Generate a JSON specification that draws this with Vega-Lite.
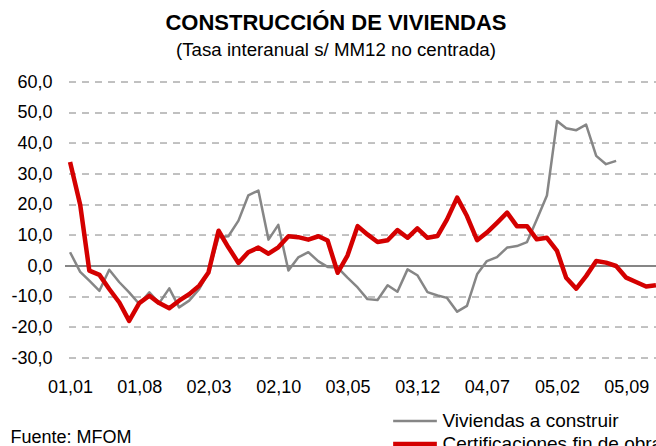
{
  "$schema": "https://vega.github.io/schema/vega-lite/v6.json",
  "width": 596,
  "height": 276,
  "autosize": {"type": "none"},
  "padding": {"left": 65, "top": 82, "right": 0, "bottom": 88},
  "background": "white",
  "title": {
    "text": "CONSTRUCCIÓN DE VIVIENDAS",
    "subtitle": "(Tasa interanual s/ MM12 no centrada)",
    "anchor": "middle",
    "dx": -27,
    "offset": 12,
    "fontSize": 22,
    "fontWeight": "bold",
    "color": "#000000",
    "subtitleFontSize": 18.7,
    "subtitleColor": "#000000",
    "subtitlePadding": 6
  },
  "config": {
    "font": "Liberation Sans",
    "view": {"stroke": null},
    "locale": {"number": {"decimal": ",", "thousands": ".", "grouping": [3], "currency": ["", " €"], "minus": "-"}}
  },
  "data": {
    "values": [
      {"fecha": "2001-01-01", "Viviendas a construir": 4.5, "Certificaciones fin de obra": 33.9},
      {"fecha": "2001-02-01", "Viviendas a construir": -1.9, "Certificaciones fin de obra": 20.0},
      {"fecha": "2001-03-01", "Viviendas a construir": -4.8, "Certificaciones fin de obra": -1.5},
      {"fecha": "2001-04-01", "Viviendas a construir": -8.1, "Certificaciones fin de obra": -2.9},
      {"fecha": "2001-05-01", "Viviendas a construir": -1.2, "Certificaciones fin de obra": -7.5},
      {"fecha": "2001-06-01", "Viviendas a construir": -5.3, "Certificaciones fin de obra": -11.9},
      {"fecha": "2001-07-01", "Viviendas a construir": -8.6, "Certificaciones fin de obra": -17.9},
      {"fecha": "2001-08-01", "Viviendas a construir": -12.4, "Certificaciones fin de obra": -12.1},
      {"fecha": "2001-09-01", "Viviendas a construir": -8.6, "Certificaciones fin de obra": -9.7},
      {"fecha": "2001-10-01", "Viviendas a construir": -12.1, "Certificaciones fin de obra": -12.1},
      {"fecha": "2001-11-01", "Viviendas a construir": -7.3, "Certificaciones fin de obra": -13.8},
      {"fecha": "2001-12-01", "Viviendas a construir": -13.5, "Certificaciones fin de obra": -11.3},
      {"fecha": "2002-01-01", "Viviendas a construir": -11.3, "Certificaciones fin de obra": -9.2},
      {"fecha": "2002-02-01", "Viviendas a construir": -7.5, "Certificaciones fin de obra": -6.4},
      {"fecha": "2002-03-01", "Viviendas a construir": -2.1, "Certificaciones fin de obra": -2.1},
      {"fecha": "2002-04-01", "Viviendas a construir": 9.4, "Certificaciones fin de obra": 11.5},
      {"fecha": "2002-05-01", "Viviendas a construir": 9.7, "Certificaciones fin de obra": 6.1},
      {"fecha": "2002-06-01", "Viviendas a construir": 14.8, "Certificaciones fin de obra": 1.0},
      {"fecha": "2002-07-01", "Viviendas a construir": 23.0, "Certificaciones fin de obra": 4.5},
      {"fecha": "2002-08-01", "Viviendas a construir": 24.6, "Certificaciones fin de obra": 6.0},
      {"fecha": "2002-09-01", "Viviendas a construir": 8.6, "Certificaciones fin de obra": 4.0},
      {"fecha": "2002-10-01", "Viviendas a construir": 13.4, "Certificaciones fin de obra": 6.1},
      {"fecha": "2002-11-01", "Viviendas a construir": -1.5, "Certificaciones fin de obra": 9.7},
      {"fecha": "2002-12-01", "Viviendas a construir": 2.8, "Certificaciones fin de obra": 9.4},
      {"fecha": "2003-01-01", "Viviendas a construir": 4.5, "Certificaciones fin de obra": 8.6},
      {"fecha": "2003-02-01", "Viviendas a construir": 1.5, "Certificaciones fin de obra": 9.7},
      {"fecha": "2003-03-01", "Viviendas a construir": -0.3, "Certificaciones fin de obra": 8.3},
      {"fecha": "2003-04-01", "Viviendas a construir": -0.5, "Certificaciones fin de obra": -2.2},
      {"fecha": "2003-05-01", "Viviendas a construir": -3.8, "Certificaciones fin de obra": 3.4},
      {"fecha": "2003-06-01", "Viviendas a construir": -7.0, "Certificaciones fin de obra": 13.0},
      {"fecha": "2003-07-01", "Viviendas a construir": -10.8, "Certificaciones fin de obra": 10.3},
      {"fecha": "2003-08-01", "Viviendas a construir": -11.1, "Certificaciones fin de obra": 7.8},
      {"fecha": "2003-09-01", "Viviendas a construir": -6.3, "Certificaciones fin de obra": 8.4},
      {"fecha": "2003-10-01", "Viviendas a construir": -8.4, "Certificaciones fin de obra": 11.7},
      {"fecha": "2003-11-01", "Viviendas a construir": -1.1, "Certificaciones fin de obra": 9.2},
      {"fecha": "2003-12-01", "Viviendas a construir": -3.0, "Certificaciones fin de obra": 12.3},
      {"fecha": "2004-01-01", "Viviendas a construir": -8.5, "Certificaciones fin de obra": 9.2},
      {"fecha": "2004-02-01", "Viviendas a construir": -9.6, "Certificaciones fin de obra": 9.8},
      {"fecha": "2004-03-01", "Viviendas a construir": -10.4, "Certificaciones fin de obra": 15.2},
      {"fecha": "2004-04-01", "Viviendas a construir": -14.9, "Certificaciones fin de obra": 22.3},
      {"fecha": "2004-05-01", "Viviendas a construir": -13.0, "Certificaciones fin de obra": 16.3},
      {"fecha": "2004-06-01", "Viviendas a construir": -2.7, "Certificaciones fin de obra": 8.4},
      {"fecha": "2004-07-01", "Viviendas a construir": 1.6, "Certificaciones fin de obra": 10.9},
      {"fecha": "2004-08-01", "Viviendas a construir": 2.9, "Certificaciones fin de obra": 14.1},
      {"fecha": "2004-09-01", "Viviendas a construir": 6.0, "Certificaciones fin de obra": 17.4},
      {"fecha": "2004-10-01", "Viviendas a construir": 6.5, "Certificaciones fin de obra": 13.0},
      {"fecha": "2004-11-01", "Viviendas a construir": 7.8, "Certificaciones fin de obra": 13.0},
      {"fecha": "2004-12-01", "Viviendas a construir": 15.2, "Certificaciones fin de obra": 8.7},
      {"fecha": "2005-01-01", "Viviendas a construir": 23.0, "Certificaciones fin de obra": 9.2},
      {"fecha": "2005-02-01", "Viviendas a construir": 47.3, "Certificaciones fin de obra": 4.9},
      {"fecha": "2005-03-01", "Viviendas a construir": 44.9, "Certificaciones fin de obra": -3.8},
      {"fecha": "2005-04-01", "Viviendas a construir": 44.3, "Certificaciones fin de obra": -7.4},
      {"fecha": "2005-05-01", "Viviendas a construir": 46.1, "Certificaciones fin de obra": -3.3},
      {"fecha": "2005-06-01", "Viviendas a construir": 35.9, "Certificaciones fin de obra": 1.6},
      {"fecha": "2005-07-01", "Viviendas a construir": 33.2, "Certificaciones fin de obra": 1.1},
      {"fecha": "2005-08-01", "Viviendas a construir": 34.3, "Certificaciones fin de obra": 0.0},
      {"fecha": "2005-09-01", "Viviendas a construir": null, "Certificaciones fin de obra": -3.8},
      {"fecha": "2005-10-01", "Viviendas a construir": null, "Certificaciones fin de obra": -5.2},
      {"fecha": "2005-11-01", "Viviendas a construir": null, "Certificaciones fin de obra": -6.7},
      {"fecha": "2005-12-01", "Viviendas a construir": null, "Certificaciones fin de obra": -6.3}
    ]
  },
  "transform": [
    {"fold": ["Viviendas a construir", "Certificaciones fin de obra"], "as": ["serie", "valor"]},
    {"filter": "isValid(datum.valor)"}
  ],
  "encoding": {
    "x": {
      "field": "fecha",
      "type": "temporal",
      "scale": {"domain": [{"year": 2000, "month": 12, "date": 16, "hours": 12}, {"year": 2005, "month": 12, "date": 16, "hours": 12}]},
      "axis": {
        "values": [
          {"year": 2001, "month": 1, "date": 1},
          {"year": 2001, "month": 8, "date": 1},
          {"year": 2002, "month": 3, "date": 1},
          {"year": 2002, "month": 10, "date": 1},
          {"year": 2003, "month": 5, "date": 1},
          {"year": 2003, "month": 12, "date": 1},
          {"year": 2004, "month": 7, "date": 1},
          {"year": 2005, "month": 2, "date": 1},
          {"year": 2005, "month": 9, "date": 1}
        ],
        "format": "%y,%m",
        "grid": false,
        "domain": false,
        "ticks": false,
        "labelPadding": 20,
        "labelFontSize": 18,
        "labelColor": "#000000",
        "labelFlush": false,
        "labelOverlap": false,
        "title": "Fuente: MFOM",
        "titleFontSize": 18,
        "titleFontWeight": "normal",
        "titleColor": "#000000",
        "titleAnchor": "start",
        "titleAlign": "left",
        "titleBaseline": "alphabetic",
        "titleX": -55,
        "titleY": 84
      }
    },
    "y": {
      "field": "valor",
      "type": "quantitative",
      "scale": {"domain": [-30, 60], "nice": false},
      "axis": {
        "values": [-30, -20, -10, 0, 10, 20, 30, 40, 50, 60],
        "format": ".1f",
        "title": null,
        "grid": false,
        "domain": false,
        "ticks": false,
        "labelOverlap": false,
        "labelFontSize": 18,
        "labelColor": "#000000",
        "labelPadding": 13
      }
    }
  },
  "layer": [
    {"mark": {"type": "rule", "color": "#c0c0c0", "strokeWidth": 1, "strokeDash": [7, 6]}, "encoding": {"x": null, "y": {"datum": -30, "type": "quantitative"}}},
    {"mark": {"type": "rule", "color": "#c0c0c0", "strokeWidth": 1, "strokeDash": [7, 6]}, "encoding": {"x": null, "y": {"datum": -20, "type": "quantitative"}}},
    {"mark": {"type": "rule", "color": "#c0c0c0", "strokeWidth": 1, "strokeDash": [7, 6]}, "encoding": {"x": null, "y": {"datum": -10, "type": "quantitative"}}},
    {"mark": {"type": "rule", "color": "#c0c0c0", "strokeWidth": 1, "strokeDash": [7, 6]}, "encoding": {"x": null, "y": {"datum": 10, "type": "quantitative"}}},
    {"mark": {"type": "rule", "color": "#c0c0c0", "strokeWidth": 1, "strokeDash": [7, 6]}, "encoding": {"x": null, "y": {"datum": 20, "type": "quantitative"}}},
    {"mark": {"type": "rule", "color": "#c0c0c0", "strokeWidth": 1, "strokeDash": [7, 6]}, "encoding": {"x": null, "y": {"datum": 30, "type": "quantitative"}}},
    {"mark": {"type": "rule", "color": "#c0c0c0", "strokeWidth": 1, "strokeDash": [7, 6]}, "encoding": {"x": null, "y": {"datum": 40, "type": "quantitative"}}},
    {"mark": {"type": "rule", "color": "#c0c0c0", "strokeWidth": 1, "strokeDash": [7, 6]}, "encoding": {"x": null, "y": {"datum": 50, "type": "quantitative"}}},
    {"mark": {"type": "rule", "color": "#c0c0c0", "strokeWidth": 1, "strokeDash": [7, 6]}, "encoding": {"x": null, "y": {"datum": 60, "type": "quantitative"}}},
    {
      "mark": {"type": "rule", "color": "#868686", "strokeWidth": 1.5},
      "encoding": {"x": null, "y": {"datum": 0, "type": "quantitative"}}
    },
    {
      "mark": {"type": "line", "strokeJoin": "round", "clip": false},
      "encoding": {
        "color": {
          "field": "serie",
          "type": "nominal",
          "scale": {"domain": ["Viviendas a construir", "Certificaciones fin de obra"], "range": ["#868686", "#d40000"]},
          "legend": {
            "title": null,
            "orient": "none",
            "direction": "vertical",
            "legendX": 338,
            "legendY": 328,
            "padding": 0,
            "symbolType": "M-2.3,0H2.3",
            "symbolSize": 361,
            "labelFontSize": 19,
            "labelColor": "#000000",
            "labelOffset": 15.5,
            "rowPadding": 1,
            "labelLimit": 400
          }
        },
        "strokeWidth": {
          "field": "serie",
          "type": "nominal",
          "scale": {"domain": ["Viviendas a construir", "Certificaciones fin de obra"], "range": [2.5, 4.5]},
          "legend": {
            "title": null,
            "orient": "none",
            "direction": "vertical",
            "legendX": 338,
            "legendY": 328,
            "padding": 0,
            "symbolType": "M-2.3,0H2.3",
            "symbolSize": 361,
            "labelFontSize": 19,
            "labelColor": "#000000",
            "labelOffset": 15.5,
            "rowPadding": 1,
            "labelLimit": 400
          }
        }
      }
    }
  ]
}
